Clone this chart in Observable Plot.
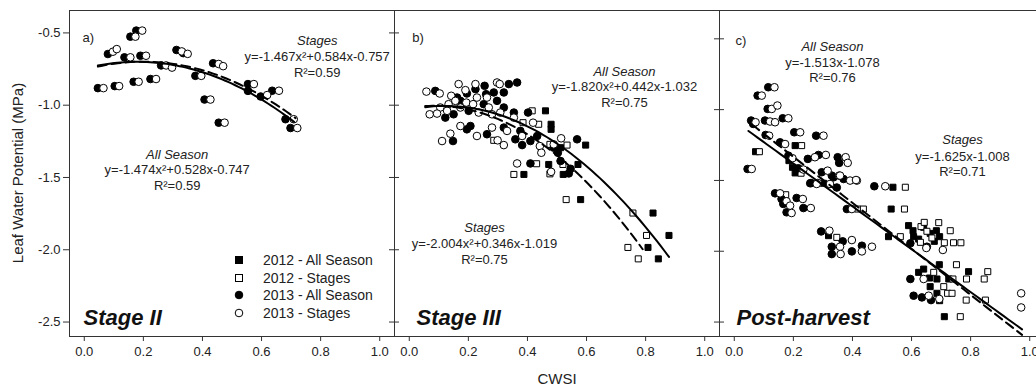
<!DOCTYPE html>
<html><head><meta charset="utf-8">
<script src="https://cdn.jsdelivr.net/npm/d3@7"></script>
<script src="https://cdn.jsdelivr.net/npm/@observablehq/plot@0.6"></script>
<style>
html,body{margin:0;padding:0;background:#fff;overflow:hidden;}
#wrap{position:relative;width:1036px;height:387px;overflow:hidden;font-family:"Liberation Sans",Arial,sans-serif;}
#row{display:flex;flex-wrap:nowrap;width:1044px;}
#row svg{flex:0 0 auto;overflow:visible;}
#legend{position:absolute;left:232px;top:251px;font-size:14px;color:#222;}
#legend .it{display:flex;align-items:center;height:17.8px;white-space:nowrap;}
#legend svg{margin-right:17px;}
#ylab{position:absolute;left:17px;top:173px;transform:translate(-50%,-50%) rotate(-90deg);font-size:15px;color:#222;white-space:nowrap;}
</style>
</head><body>
<div id="wrap"><div id="row"></div><div id="legend"></div><div id="ylab"></div></div>
<script>
// ---------- data ----------
const xTicks = [0, 0.2, 0.4, 0.6, 0.8, 1.0];
const yTicks = [-2.5, -2.0, -1.5, -1.0, -0.5];
const seriesNames = ["2012 - All Season", "2012 - Stages", "2013 - All Season", "2013 - Stages"];
const panelTitles = ["Stage II", "Stage III", "Post-harvest"];
const panelLetters = ["a)", "b)", "c)"];
const yTitle = "Leaf Water Potential (MPa)";
const xTitle = "CWSI";

// Stage II (panel a) [CWSI, LWP]
const a2012All = [];
const a2012Stg = [];
const a2013All = [[0.046,-0.882],[0.103,-0.868],[0.08,-0.646],[0.136,-0.669],[0.156,-0.526],[0.176,-0.484],[0.167,-0.838],[0.19,-0.658],[0.224,-0.819],[0.26,-0.725],[0.312,-0.618],[0.335,-0.64],[0.376,-0.797],[0.407,-0.961],[0.436,-0.71],[0.455,-1.121],[0.554,-0.854],[0.554,-0.901],[0.597,-0.94],[0.636,-0.90],[0.681,-1.097],[0.698,-1.158]];
const a2013Stg = [[0.065,-0.882],[0.118,-0.868],[0.097,-0.63],[0.11,-0.612],[0.156,-0.669],[0.173,-0.526],[0.196,-0.484],[0.184,-0.838],[0.209,-0.658],[0.243,-0.819],[0.277,-0.725],[0.297,-0.74],[0.33,-0.628],[0.35,-0.645],[0.396,-0.797],[0.427,-0.961],[0.455,-0.715],[0.47,-0.73],[0.475,-1.121],[0.574,-0.854],[0.619,-0.93],[0.659,-0.90],[0.709,-1.097],[0.721,-1.158]];

// Stage III (panel b)
const b2012All = [[0.461,-1.039],[0.48,-1.132],[0.48,-1.167],[0.512,-1.294],[0.597,-1.276],[0.472,-1.41],[0.571,-1.41],[0.388,-1.479],[0.521,-1.479],[0.58,-1.653],[0.825,-1.746],[0.879,-1.901],[0.808,-1.984],[0.843,-2.063]];
const b2012Stg = [[0.416,-1.039],[0.438,-1.132],[0.385,-1.121],[0.534,-1.276],[0.431,-1.405],[0.52,-1.41],[0.476,-1.475],[0.354,-1.479],[0.286,-1.243],[0.476,-1.271],[0.531,-1.653],[0.757,-1.746],[0.803,-1.901],[0.74,-1.984],[0.775,-2.063]];
const b2013All = [[0.088,-0.901],[0.162,-0.947],[0.195,-0.919],[0.224,-0.889],[0.255,-0.866],[0.26,-0.924],[0.286,-0.912],[0.32,-0.912],[0.337,-0.854],[0.365,-0.843],[0.173,-0.97],[0.201,-1.039],[0.252,-0.993],[0.297,-0.97],[0.32,-1.016],[0.122,-1.086],[0.15,-1.063],[0.195,-1.167],[0.207,-1.144],[0.263,-1.201],[0.32,-1.155],[0.148,-1.248],[0.359,-1.236],[0.382,-1.276],[0.402,-1.051],[0.354,-1.051],[0.376,-1.178],[0.433,-1.213],[0.41,-1.248],[0.489,-1.294],[0.503,-1.329],[0.568,-1.236],[0.41,-1.403],[0.512,-1.386],[0.546,-1.44],[0.54,-1.472]];
const b2013Stg = [[0.058,-0.906],[0.103,-0.919],[0.167,-0.854],[0.142,-0.935],[0.19,-0.896],[0.224,-0.854],[0.297,-0.843],[0.306,-0.854],[0.133,-0.993],[0.156,-0.97],[0.105,-1.016],[0.069,-1.063],[0.094,-1.058],[0.128,-1.039],[0.173,-1.016],[0.193,-0.982],[0.216,-0.993],[0.229,-0.947],[0.263,-0.947],[0.269,-1.016],[0.235,-1.051],[0.28,-1.063],[0.308,-1.051],[0.354,-1.086],[0.111,-1.248],[0.139,-1.197],[0.173,-1.144],[0.229,-1.213],[0.28,-1.155],[0.299,-1.243],[0.32,-1.276],[0.331,-1.178],[0.382,-1.213],[0.419,-1.121],[0.442,-1.283],[0.365,-1.403],[0.514,-1.229],[0.489,-1.271],[0.447,-1.329],[0.48,-1.461]];

// Post-harvest (panel c)
const c2012All = [[0.072,-1.297],[0.185,-1.36],[0.197,-1.407],[0.206,-1.447],[0.206,-1.254],[0.302,-1.52],[0.537,-1.548],[0.531,-1.702],[0.522,-1.897],[0.319,-1.89],[0.59,-1.819],[0.605,-1.855],[0.607,-1.897],[0.641,-1.831],[0.684,-1.855],[0.695,-1.897],[0.677,-1.93],[0.624,-1.914],[0.663,-1.874],[0.624,-2.149],[0.641,-2.126],[0.661,-2.189],[0.686,-2.196],[0.694,-2.095],[0.726,-2.196],[0.793,-2.144],[0.663,-2.25],[0.686,-2.297],[0.695,-2.349],[0.711,-2.462]];
const c2012Stg = [[0.085,-1.297],[0.228,-1.254],[0.226,-1.449],[0.174,-1.601],[0.579,-1.548],[0.576,-1.702],[0.562,-1.897],[0.347,-1.902],[0.418,-1.702],[0.437,-1.702],[0.632,-1.826],[0.643,-1.796],[0.652,-1.859],[0.692,-1.798],[0.731,-1.855],[0.742,-1.94],[0.767,-1.94],[0.711,-1.94],[0.63,-1.937],[0.669,-1.906],[0.675,-2.149],[0.752,-2.095],[0.74,-2.196],[0.786,-2.196],[0.858,-2.144],[0.846,-2.196],[0.709,-2.25],[0.722,-2.297],[0.737,-2.297],[0.785,-2.345],[0.85,-2.345],[0.765,-2.462]];
const c2013All = [[0.115,-0.842],[0.079,-0.901],[0.113,-0.995],[0.057,-1.077],[0.064,-1.101],[0.104,-1.077],[0.164,-1.061],[0.106,-1.179],[0.203,-1.16],[0.277,-1.184],[0.155,-1.231],[0.045,-1.419],[0.183,-1.325],[0.217,-1.414],[0.249,-1.348],[0.285,-1.32],[0.26,-1.518],[0.296,-1.442],[0.33,-1.466],[0.35,-1.336],[0.355,-1.376],[0.37,-1.49],[0.257,-1.52],[0.336,-1.478],[0.347,-1.55],[0.474,-1.541],[0.138,-1.591],[0.16,-1.631],[0.166,-1.666],[0.177,-1.725],[0.211,-1.624],[0.234,-1.695],[0.381,-1.702],[0.294,-1.86],[0.33,-1.968],[0.367,-1.93],[0.33,-2.02],[0.398,-2.001],[0.432,-1.961],[0.596,-1.944],[0.652,-1.968],[0.596,-2.196],[0.607,-2.314],[0.635,-2.326],[0.666,-2.345]];
const c2013Stg = [[0.136,-0.842],[0.093,-0.901],[0.127,-0.995],[0.146,-0.971],[0.072,-1.089],[0.121,-1.084],[0.138,-1.089],[0.183,-1.061],[0.118,-1.184],[0.223,-1.16],[0.302,-1.184],[0.172,-1.243],[0.059,-1.419],[0.197,-1.343],[0.234,-1.423],[0.273,-1.336],[0.31,-1.32],[0.283,-1.518],[0.316,-1.431],[0.355,-1.466],[0.377,-1.336],[0.384,-1.376],[0.392,-1.501],[0.415,-1.501],[0.279,-1.525],[0.324,-1.525],[0.358,-1.466],[0.412,-1.497],[0.511,-1.541],[0.155,-1.591],[0.177,-1.647],[0.189,-1.678],[0.194,-1.73],[0.232,-1.631],[0.259,-1.695],[0.398,-1.702],[0.322,-1.855],[0.358,-1.968],[0.398,-1.921],[0.36,-2.02],[0.432,-2.001],[0.466,-1.968],[0.65,-1.977],[0.706,-1.991],[0.641,-2.196],[0.658,-2.314],[0.694,-2.337],[0.971,-2.297],[0.971,-2.397]];

// fitted equations y = c2*x^2 + c1*x + c0 (from the chart annotations)
const fitAll = [[-1.474,0.528,-0.747],[-1.820,0.442,-1.032],[0,-1.513,-1.078]];
const fitStg = [[-1.467,0.584,-0.757],[-2.004,0.346,-1.019],[0,-1.625,-1.008]];
const fitAllRange = [[0.046,0.71],[0.054,0.879],[0.048,0.974]];
const fitStgRange = [[0.046,0.715],[0.054,0.79],[0.06,0.974]];
const eqAll = ["y=-1.474x²+0.528x-0.747","y=-1.820x²+0.442x-1.032","y=-1.513x-1.078"];
const eqStg = ["y=-1.467x²+0.584x-0.757","y=-2.004x²+0.346x-1.019","y=-1.625x-1.008"];
const r2All = ["R²=0.59","R²=0.75","R²=0.76"];
const r2Stg = ["R²=0.59","R²=0.75","R²=0.71"];

const panelSeries = [
  [a2012All, a2012Stg, a2013All, a2013Stg],
  [b2012All, b2012Stg, b2013All, b2013Stg],
  [c2012All, c2012Stg, c2013All, c2013Stg]
];

// ---------- layout ----------
const yDomains = [[-2.6,-0.345],[-2.6,-0.345],[-2.602,-0.30]];
const L = [
  {letter:[13,22], all:[107.7,139], stg:[247.7,25], title:[14,299]},
  {letter:[17.7,22], all:[230,56], stg:[90,212], title:[22,299]},
  {letter:[16,25], all:[113,31.7], stg:[243,124.7], title:[17,299]}
];
const symStyle = [
  {symbol:"square", r:3.4, fill:"black"},
  {symbol:"square", r:3.4, fill:"white"},
  {symbol:"circle", r:3.8, fill:"black"},
  {symbol:"circle", r:3.8, fill:"white"}
];
const fmt = d => d.toFixed(1);

function curve(c, range) {
  const n = 60, [lo, hi] = range;
  return d3.range(n + 1).map(k => {
    const x = lo + (hi - lo) * k / n;
    return [x, c[0]*x*x + c[1]*x + c[2]];
  });
}
function label(str, pos, extra) {
  return Plot.text([str], {text: d => d, frameAnchor: "top-left", dx: pos[0], dy: pos[1], fill: "#222", fontSize: 13, textAnchor: "middle", ...extra});
}

function panel(i) {
  const lay = L[i];
  const marks = [Plot.frame({stroke: "#333"})];
  marks.push(Plot.axisX(xTicks, {tickSize: 5, tickPadding: 5, tickFormat: fmt, stroke: "#333", fill: "#222", fontSize: 13, label: null}));
  if (i === 0) {
    marks.push(Plot.axisY(yTicks, {tickSize: 6, tickPadding: 3, tickFormat: fmt, stroke: "#333", fill: "#222", fontSize: 13, label: null}));
  } else {
    marks.push(Plot.axisY(yTicks, {tickSize: 10, dx: 5, tickFormat: () => "", stroke: "#333", label: null}));
  }
  if (i === 1) marks.push(Plot.text([xTitle], {text: d => d, frameAnchor: "bottom", dy: 47, fontSize: 15, fill: "#222"}));
  panelSeries[i].forEach((data, s) => {
    marks.push(Plot.dot(data, {x: d => d[0], y: d => d[1], symbol: symStyle[s].symbol, r: symStyle[s].r, fill: symStyle[s].fill, stroke: "black", strokeWidth: 1}));
  });
  marks.push(Plot.line(curve(fitAll[i], fitAllRange[i]), {x: d => d[0], y: d => d[1], stroke: "black", strokeWidth: 2}));
  marks.push(Plot.line(curve(fitStg[i], fitStgRange[i]), {x: d => d[0], y: d => d[1], stroke: "black", strokeWidth: 2, strokeDasharray: "9,5"}));
  marks.push(label(panelLetters[i], lay.letter, {textAnchor: "start"}));
  marks.push(label("All Season", lay.all, {fontStyle: "italic"}));
  marks.push(label(eqAll[i], [lay.all[0], lay.all[1] + 15.5]));
  marks.push(label(r2All[i], [lay.all[0], lay.all[1] + 31]));
  marks.push(label("Stages", lay.stg, {fontStyle: "italic"}));
  marks.push(label(eqStg[i], [lay.stg[0], lay.stg[1] + 16.5]));
  marks.push(label(r2Stg[i], [lay.stg[0], lay.stg[1] + 32]));
  marks.push(label(panelTitles[i], lay.title, {textAnchor: "start", fontSize: 22, fontWeight: "bold", fontStyle: "italic", fill: "#111"}));
  return Plot.plot({
    width: i === 0 ? 394 : 325, height: 387,
    marginLeft: i === 0 ? 69 : 0, marginRight: 0, marginTop: 10, marginBottom: 51,
    x: {domain: [-0.05, 1.05]},
    y: {domain: yDomains[i]},
    style: {fontFamily: "'Liberation Sans', Arial, sans-serif", fontSize: "13px", color: "#222", background: "transparent", overflow: "visible"},
    marks
  });
}

const row = document.getElementById("row");
for (let i = 0; i < 3; i++) row.appendChild(panel(i));
document.getElementById("ylab").textContent = yTitle;

// legend
const legend = document.getElementById("legend");
seriesNames.forEach((name, s) => {
  const it = document.createElement("div");
  it.className = "it";
  const st = symStyle[s];
  const shape = st.symbol === "square"
    ? `<rect x="3.5" y="3.5" width="7" height="7" fill="${st.fill}" stroke="black" stroke-width="1"/>`
    : `<circle cx="7" cy="7" r="3.8" fill="${st.fill}" stroke="black" stroke-width="1"/>`;
  it.innerHTML = `<svg width="14" height="14">${shape}</svg><span></span>`;
  it.querySelector("span").textContent = name;
  legend.appendChild(it);
});
</script>
</body></html>
